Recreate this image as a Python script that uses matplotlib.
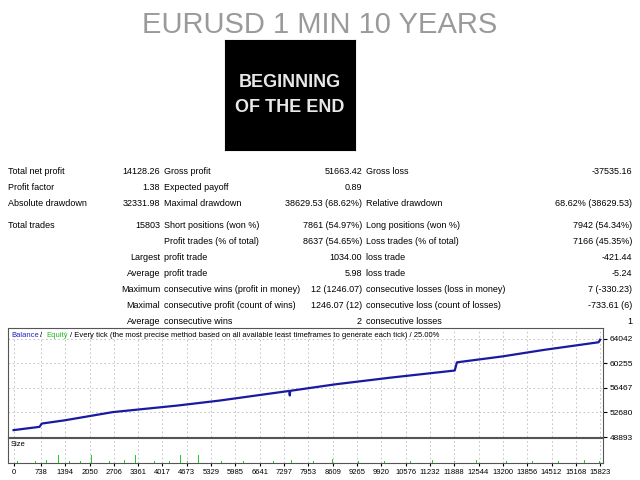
import matplotlib
matplotlib.use("Agg")
import matplotlib.pyplot as plt

plt.rcParams['font.family'] = ['Liberation Sans', 'DejaVu Sans']

# stats table rows: (label1, value1, label2, value2, label3, value3)
rows = [
    ("Total net profit", "14128.26", "Gross profit", "51663.42", "Gross loss", "-37535.16"),
    ("Profit factor", "1.38", "Expected payoff", "0.89", "", ""),
    ("Absolute drawdown", "32331.98", "Maximal drawdown", "38629.53 (68.62%)", "Relative drawdown", "68.62% (38629.53)"),
    ("Total trades", "15803", "Short positions (won %)", "7861 (54.97%)", "Long positions (won %)", "7942 (54.34%)"),
    ("", "", "Profit trades (% of total)", "8637 (54.65%)", "Loss trades (% of total)", "7166 (45.35%)"),
    ("", "Largest", "profit trade", "1034.00", "loss trade", "-421.44"),
    ("", "Average", "profit trade", "5.98", "loss trade", "-5.24"),
    ("", "Maximum", "consecutive wins (profit in money)", "12 (1246.07)", "consecutive losses (loss in money)", "7 (-330.23)"),
    ("", "Maximal", "consecutive profit (count of wins)", "1246.07 (12)", "consecutive loss (count of losses)", "-733.61 (6)"),
    ("", "Average", "consecutive wins", "2", "consecutive losses", "1"),
]
row_y = [171, 187, 203, 225, 241, 257, 273, 289, 305, 321]

# balance curve (trade number, balance)
trades = [0, 700, 760, 1382, 2675, 4417, 5540, 7440, 7451, 7462, 8687, 10148, 11900, 11960, 13182, 14306, 15780, 15823]
balance = [49953, 50458, 50963, 51468, 52730, 53740, 54498, 56000, 55300, 56012, 57022, 58032, 59143, 60405, 61314, 62324, 63500, 63900]
yticks = [48893, 52680, 56467, 60255, 64042]
xticks = [0, 738, 1394, 2050, 2706, 3361, 4017, 4673, 5329, 5985, 6641, 7297, 7953, 8609,
          9265, 9920, 10576, 11232, 11888, 12544, 13200, 13856, 14512, 15168, 15823]

# lot size spikes (trade number, height)
size_x = [100, 600, 900, 1200, 1500, 1800, 2100, 2600, 3000, 3300, 3800, 4200, 4500, 4700,
          5000, 5600, 6200, 7000, 7500, 8100, 8600, 9300, 10000, 10700, 11300, 11900, 12500,
          13300, 14000, 14700, 15400, 15800]
size_h = [0.3, 0.3, 0.35, 1.0, 0.3, 0.3, 1.0, 0.3, 0.35, 1.0, 0.3, 0.3, 1.0, 0.3,
          1.0, 0.3, 0.3, 0.3, 0.4, 0.3, 0.45, 0.3, 0.3, 0.3, 0.35, 0.3, 0.4,
          0.3, 0.3, 0.3, 0.4, 0.3]

W, H = 640, 480
fig = plt.figure(figsize=(6.4, 4.8), dpi=100)

def px(x, y):
    return x / W, 1 - y / H

fig.text(*px(320, 25), "EURUSD 1 MIN 10 YEARS", ha="center", va="center",
         fontsize=21, color="#9a9a9a")

# black picture box
box = fig.add_axes([225 / W, 1 - 150 / H, 130 / W, 110 / H])
box.set_facecolor("black")
box.set_xticks([]); box.set_yticks([])
box.text(0.5, 0.5, "BEGINNING\nOF THE END", color="#e8e8e8", ha="center", va="center",
         fontsize=13, fontweight="bold", linespacing=1.6,
         transform=box.transAxes)

fs = 6.5
for r, y in zip(rows, row_y):
    fig.text(*px(8, y), r[0], fontsize=fs, va="center")
    fig.text(*px(160, y), r[1], fontsize=fs, va="center", ha="right")
    fig.text(*px(164, y), r[2], fontsize=fs, va="center")
    fig.text(*px(362, y), r[3], fontsize=fs, va="center", ha="right")
    fig.text(*px(366, y), r[4], fontsize=fs, va="center")
    fig.text(*px(632, y), r[5], fontsize=fs, va="center", ha="right")

ax = fig.add_axes([8 / W, 1 - 437 / H, 595 / W, 109 / H])
ax.plot(trades, balance, color="#1a1aa0", lw=1.6)
ax.set_xlim(-150, 15900)
ax.set_ylim(48893, 65700)
ax.set_yticks(yticks)
ax.yaxis.tick_right()
ax.tick_params(axis="y", labelsize=6, length=3, pad=2)
ax.set_xticks(xticks)
ax.tick_params(axis="x", length=0, labelbottom=False)
ax.grid(True, color="#bbbbbb", ls=(0, (2, 3)), lw=0.6)
for s in ax.spines.values():
    s.set_color("#555555")
ax.text(0.005, 0.93, "Balance", color="#2222cc", fontsize=5.5, transform=ax.transAxes, va="center")
ax.text(0.054, 0.93, "/", color="black", fontsize=5.5, transform=ax.transAxes, va="center")
ax.text(0.064, 0.93, "Equity", color="#22bb22", fontsize=5.5, transform=ax.transAxes, va="center")
ax.text(0.104, 0.93, "/ Every tick (the most precise method based on all available least timeframes to generate each tick) / 25.00%",
        fontsize=5.5, transform=ax.transAxes, va="center")

ax2 = fig.add_axes([8 / W, 1 - 463 / H, 595 / W, 25 / H])
ax2.bar(size_x, size_h, width=25, color="#22cc22")
ax2.set_xlim(-150, 15900)
ax2.set_ylim(0, 3)
ax2.set_yticks([])
ax2.set_xticks(xticks)
ax2.tick_params(axis="x", labelsize=5.5, length=2, pad=2)
ax2.grid(True, axis="x", color="#bbbbbb", ls=(0, (2, 3)), lw=0.6)
for s in ax2.spines.values():
    s.set_color("#555555")
ax2.text(0.005, 0.75, "Size", fontsize=5.5, transform=ax2.transAxes, va="center")

fig.savefig("out.png", dpi=100)
